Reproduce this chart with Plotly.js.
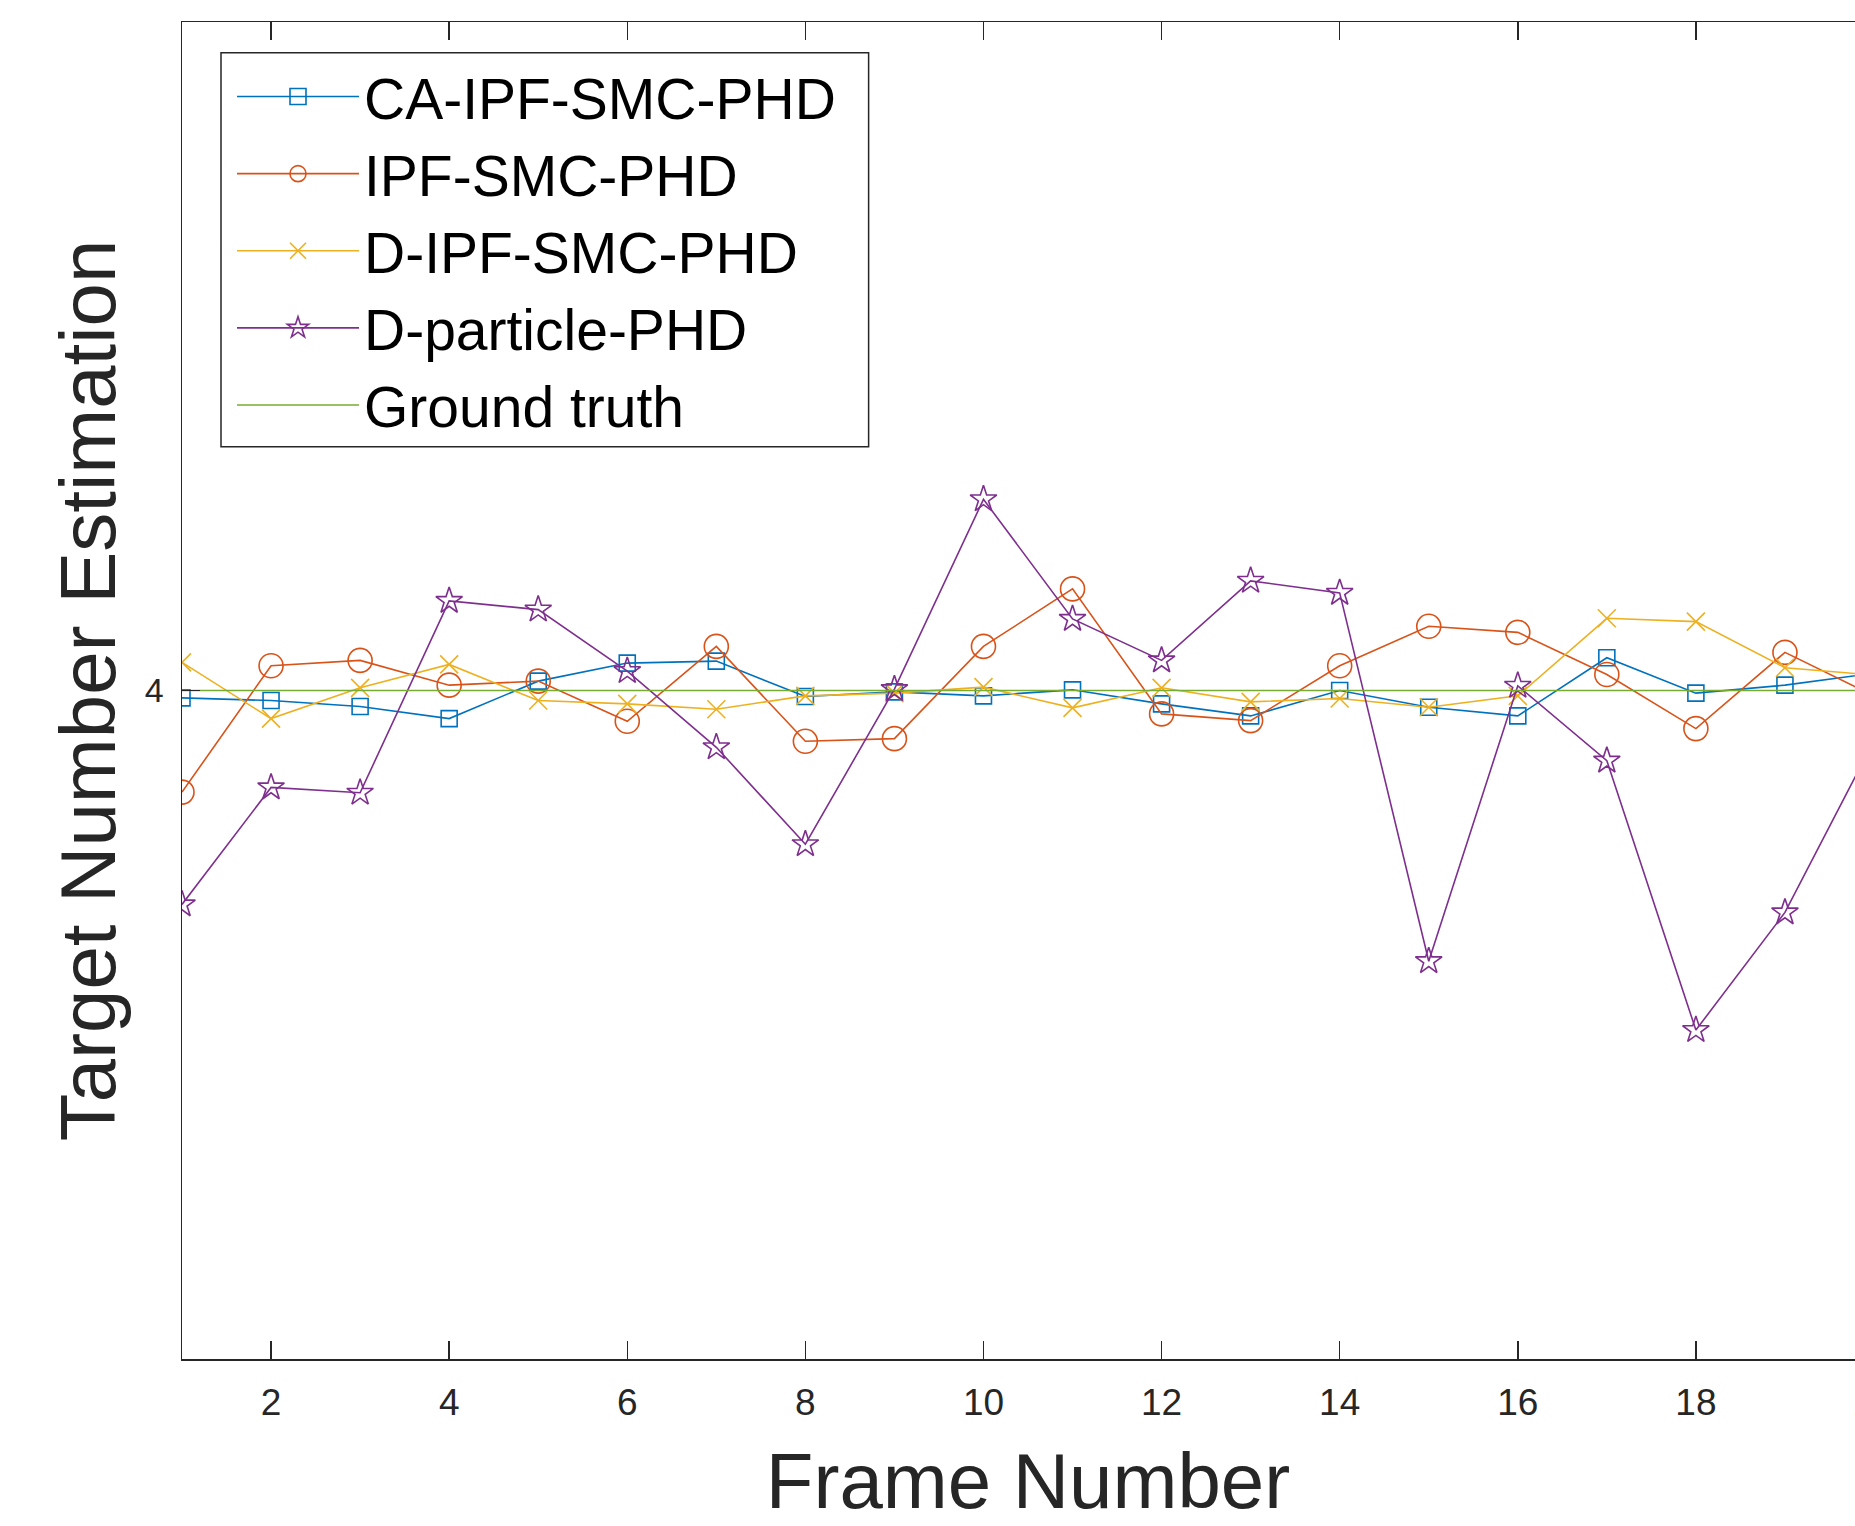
<!DOCTYPE html>
<html>
<head>
<meta charset="utf-8">
<script src="https://cdn.plot.ly/plotly-3.0.1.min.js"></script>
<style>
  html, body { margin: 0; padding: 0; overflow: hidden; background: #fff; width: 1855px; height: 1526px; }
  #chart { width: 1900px; height: 1526px; }
</style>
</head>
<body>
<div id="chart"></div>
<script>
// ---- data ----
const frames = [1, 2, 3, 4, 5, 6, 7, 8, 9, 10, 11, 12, 13, 14, 15, 16, 17, 18, 19, 20];
const caIpfSmcPhd = [3.989, 3.985, 3.976, 3.958, 4.014, 4.041, 4.044, 3.991, 3.998, 3.992,
                     4.001, 3.980, 3.962, 4.000, 3.975, 3.962, 4.049, 3.996, 4.008, 4.026];
const ipfSmcPhd   = [3.848, 4.037, 4.045, 4.008, 4.014, 3.954, 4.066, 3.924, 3.928, 4.066,
                     4.152, 3.965, 3.955, 4.037, 4.096, 4.087, 4.024, 3.943, 4.057, 3.992];
const dIpfSmcPhd  = [4.042, 3.958, 4.004, 4.039, 3.985, 3.980, 3.972, 3.992, 3.996, 4.005,
                     3.974, 4.004, 3.983, 3.988, 3.975, 3.992, 4.108, 4.103, 4.034, 4.023];
const dParticlePhd = [3.680, 3.855, 3.847, 4.134, 4.121, 4.029, 3.915, 3.770, 4.002, 4.286,
                      4.107, 4.045, 4.164, 4.146, 3.595, 4.007, 3.895, 3.492, 3.668, 3.925];
const groundTruth = [4, 4, 4, 4, 4, 4, 4, 4, 4, 4, 4, 4, 4, 4, 4, 4, 4, 4, 4, 4];
const seriesNames = ['CA-IPF-SMC-PHD', 'IPF-SMC-PHD', 'D-IPF-SMC-PHD', 'D-particle-PHD', 'Ground truth'];
const xTickVals = [2, 4, 6, 8, 10, 12, 14, 16, 18, 20];
const yTickVals = [4];
const yTickText = ['4'];

const FONT = '"Liberation Sans", Arial, Helvetica, sans-serif';
const AX = '#262626';

function mk(name, y, color, symbol, size) {
  const t = {
    type: 'scatter', mode: symbol ? 'lines+markers' : 'lines', name: name,
    x: frames, y: y,
    line: { color: color, width: 1.6 }
  };
  if (symbol) {
    t.marker = { symbol: symbol, size: size, color: color, line: { color: color, width: 1.6 } };
  }
  return t;
}

const traces = [
  mk(seriesNames[0], caIpfSmcPhd, '#0072BD', 'square-open', 16),
  mk(seriesNames[1], ipfSmcPhd, '#D95319', 'circle-open', 24),
  mk(seriesNames[2], dIpfSmcPhd, '#EDB120', 'x-thin-open', 18),
  mk(seriesNames[3], dParticlePhd, '#7E2F8E', 'star-open', 20),
  mk(seriesNames[4], groundTruth, '#77AC30', null, 0)
];

const layout = {
  width: 1900, height: 1526,
  margin: { l: 182, r: 26, t: 22, b: 167, pad: 0 },
  paper_bgcolor: '#ffffff', plot_bgcolor: '#ffffff',
  font: { family: FONT, color: AX },
  showlegend: true,
  xaxis: {
    range: [1, 20], tickvals: xTickVals, ticktext: xTickVals.map(String),
    ticks: 'inside', ticklen: 18, tickwidth: 1.5, tickcolor: AX,
    showline: true, linecolor: AX, linewidth: 1.5, mirror: 'ticks',
    showgrid: false, zeroline: false,
    tickfont: { family: FONT, size: 37, color: AX },
    ticklabelstandoff: 10,
    title: { text: 'Frame Number', font: { family: FONT, size: 78, color: AX }, standoff: 31 },
    automargin: false
  },
  yaxis: {
    range: [3, 5], tickvals: yTickVals, ticktext: yTickText,
    ticks: 'inside', ticklen: 18, tickwidth: 1.5, tickcolor: AX,
    showline: true, linecolor: AX, linewidth: 1.5, mirror: 'ticks',
    showgrid: false, zeroline: false,
    tickfont: { family: FONT, size: 34, color: AX },
    ticklabelstandoff: 10,
    title: { text: 'Target Number Estimation', font: { family: FONT, size: 78, color: AX }, standoff: 3 },
    automargin: false
  },
  legend: {
    x: 0.02955, y: 0.9768, xanchor: 'left', yanchor: 'top',
    bgcolor: 'rgba(0,0,0,0)', borderwidth: 0,
    font: { family: FONT, size: 57, color: '#000000' },
    itemwidth: 122, tracegroupgap: 0
  },
  shapes: [{
    type: 'rect', xref: 'paper', yref: 'paper', layer: 'above',
    x0: 0.02305, x1: 0.4058, y0: 0.68235, y1: 0.97704,
    line: { color: AX, width: 1.5 }, fillcolor: 'rgba(0,0,0,0)'
  }]
};

Plotly.newPlot('chart', traces, layout, { displayModeBar: false, staticPlot: true });
</script>
</body>
</html>
